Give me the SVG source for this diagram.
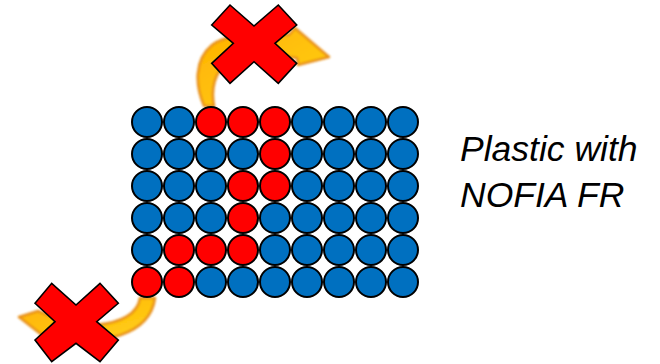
<svg xmlns="http://www.w3.org/2000/svg" width="660" height="364" viewBox="0 0 660 364">
  <defs>
    <linearGradient id="ag" x1="0" y1="0" x2="1" y2="1">
      <stop offset="0" stop-color="#FFB000"/>
      <stop offset="1" stop-color="#FFD21A"/>
    </linearGradient>
    <filter id="soft" x="-10%" y="-10%" width="120%" height="120%">
      <feGaussianBlur stdDeviation="0.8"/>
    </filter>
  </defs>
  <style>
    .b { fill: #0070C0; stroke: #000; stroke-width: 2; }
    .r { fill: #FF0000; stroke: #000; stroke-width: 2; }
    .arrow { fill: url(#ag); stroke: #E8901A; stroke-width: 2.5; stroke-linejoin: round; filter: url(#soft); }
    .x { fill: #FF0000; stroke: #000; stroke-width: 1.6; stroke-linejoin: miter; }
    .t { font-family: "Liberation Sans", Arial, sans-serif; font-style: italic; font-size: 35.5px; fill: #000; }
  </style>
  <rect width="660" height="364" fill="#fff"/>

  <g id="connectors">
    <path id="arrow-top" class="arrow" d="M 204,106 C 195,85 194,60 212,45 C 225,35 250,33 289,35 L 295,28 L 329,57 L 298,65 L 297,58 C 260,52 230,55 220,70 C 212,82 212,95 214,106 Z"/>
    <path id="arrow-bottom" class="arrow" d="M 140,298 C 138,313 122,323 95,325 L 60,320 L 38,311 L 19,317 L 42,335 L 60,339 C 100,345 150,336 155,298 Z"/>
  </g>

  <g id="grid">
    <g id="row0">
      <circle class="b" cx="147" cy="122" r="15"/><circle class="b" cx="179" cy="122" r="15"/><circle class="r" cx="211" cy="122" r="15"/><circle class="r" cx="243" cy="122" r="15"/><circle class="r" cx="275" cy="122" r="15"/><circle class="b" cx="307" cy="122" r="15"/><circle class="b" cx="339" cy="122" r="15"/><circle class="b" cx="371" cy="122" r="15"/><circle class="b" cx="403" cy="122" r="15"/>
    </g>
    <g id="row1">
      <circle class="b" cx="147" cy="154" r="15"/><circle class="b" cx="179" cy="154" r="15"/><circle class="b" cx="211" cy="154" r="15"/><circle class="b" cx="243" cy="154" r="15"/><circle class="r" cx="275" cy="154" r="15"/><circle class="b" cx="307" cy="154" r="15"/><circle class="b" cx="339" cy="154" r="15"/><circle class="b" cx="371" cy="154" r="15"/><circle class="b" cx="403" cy="154" r="15"/>
    </g>
    <g id="row2">
      <circle class="b" cx="147" cy="186" r="15"/><circle class="b" cx="179" cy="186" r="15"/><circle class="b" cx="211" cy="186" r="15"/><circle class="r" cx="243" cy="186" r="15"/><circle class="r" cx="275" cy="186" r="15"/><circle class="b" cx="307" cy="186" r="15"/><circle class="b" cx="339" cy="186" r="15"/><circle class="b" cx="371" cy="186" r="15"/><circle class="b" cx="403" cy="186" r="15"/>
    </g>
    <g id="row3">
      <circle class="b" cx="147" cy="218" r="15"/><circle class="b" cx="179" cy="218" r="15"/><circle class="b" cx="211" cy="218" r="15"/><circle class="r" cx="243" cy="218" r="15"/><circle class="b" cx="275" cy="218" r="15"/><circle class="b" cx="307" cy="218" r="15"/><circle class="b" cx="339" cy="218" r="15"/><circle class="b" cx="371" cy="218" r="15"/><circle class="b" cx="403" cy="218" r="15"/>
    </g>
    <g id="row4">
      <circle class="b" cx="147" cy="250" r="15"/><circle class="r" cx="179" cy="250" r="15"/><circle class="r" cx="211" cy="250" r="15"/><circle class="r" cx="243" cy="250" r="15"/><circle class="b" cx="275" cy="250" r="15"/><circle class="b" cx="307" cy="250" r="15"/><circle class="b" cx="339" cy="250" r="15"/><circle class="b" cx="371" cy="250" r="15"/><circle class="b" cx="403" cy="250" r="15"/>
    </g>
    <g id="row5">
      <circle class="r" cx="147" cy="282" r="15"/><circle class="r" cx="179" cy="282" r="15"/><circle class="b" cx="211" cy="282" r="15"/><circle class="b" cx="243" cy="282" r="15"/><circle class="b" cx="275" cy="282" r="15"/><circle class="b" cx="307" cy="282" r="15"/><circle class="b" cx="339" cy="282" r="15"/><circle class="b" cx="371" cy="282" r="15"/><circle class="b" cx="403" cy="282" r="15"/>
    </g>
  </g>

  <g id="cross-top">
    <polygon class="x" points="211.7,25 230,5 254,26 278.3,5 296.7,25 275,43.3 296.7,63.3 278.3,83.3 254,61.7 230,83.3 211.7,63.3 233.3,43.3"/>
  </g>
  <g id="cross-bottom">
    <polygon class="x" points="35,303.3 51.7,283.3 76,305 100,283.3 118.3,303.3 96.7,321.7 118.3,340 100,361.7 76,343.3 51.7,361.7 35,340 55,321.7"/>
  </g>

  <g id="label">
    <text class="t" x="460" y="161">Plastic with</text>
    <text class="t" x="460" y="207">NOFIA FR</text>
  </g>
</svg>
